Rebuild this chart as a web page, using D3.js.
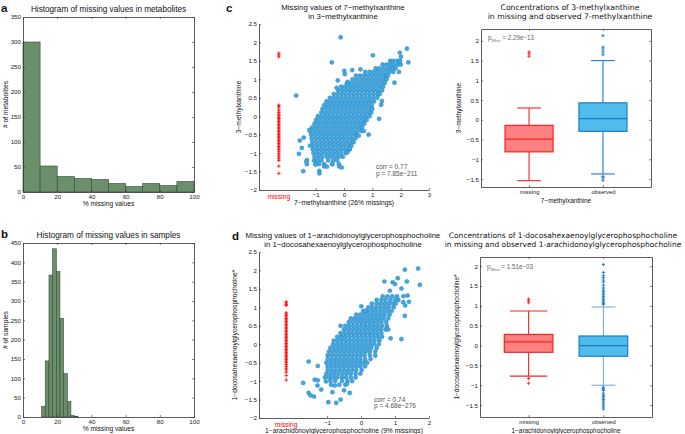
<!DOCTYPE html>
<html>
<head>
<meta charset="utf-8">
<script src="https://cdn.jsdelivr.net/npm/d3@7"></script>
<style>
  body { margin: 0; background: #fff; }
  svg { display: block; font-family: "Liberation Sans", Arial, sans-serif; }
</style>
</head>
<body>
<script>
// ---- data ----

// a: histogram of missing values per metabolite
const metaEdges = [0, 10, 20, 30, 40, 50, 60, 70, 80, 90, 100];
const metaCounts = [300, 52, 31, 27, 25, 17, 11, 17, 13, 21];
const metaYTicks = [0, 50, 100, 150, 200, 250, 300, 350];

// b: histogram of missing values per sample
const sampleEdges = [10.9, 13.0, 15.2, 17.3, 19.5, 21.6, 23.7, 25.9, 28.0, 30.1, 32.2];
const sampleCounts = [27, 145, 367, 435, 376, 255, 112, 40, 4, 1];
const sampleYTicks = [0, 50, 100, 150, 200, 250, 300, 350, 400, 450];

const pctTicks = [0, 20, 40, 60, 80, 100];
const scatterYTicks = [-2, -1.5, -1, -0.5, 0, 0.5, 1, 1.5, 2, 2.5];
const boxYTicks = [-1.5, -1, -0.5, 0, 0.5, 1, 1.5, 2];
const boxCategories = ["missing", "observed"];

// c: 7-methylxanthine vs 3-methylxanthine, rows are [y, x1, x2, ...]
const cObservedRows = [
  [1.5, 1.63, 1.74, 1.88, 1.98],
  [1.4, 1.36, 1.5, 1.62, 1.76, 1.9, 2.0],
  [1.3, 1.12, 1.25, 1.4, 1.55, 1.68, 1.82],
  [1.2, 0.75, 0.9, 1.04, 1.18, 1.32, 1.46, 1.6, 1.74],
  [1.1, 0.42, 0.56, 0.7, 0.84, 0.98, 1.12, 1.26, 1.4, 1.52],
  [1.0, 0.3, 0.44, 0.58, 0.72, 0.86, 1.0, 1.14, 1.28, 1.42, 1.5],
  [0.9, 0.1, 0.24, 0.38, 0.52, 0.66, 0.8, 0.94, 1.08, 1.22, 1.36, 1.44],
  [0.8, -0.1, 0.04, 0.18, 0.32, 0.46, 0.6, 0.74, 0.88, 1.02, 1.16, 1.3, 1.38],
  [0.7, -0.2, -0.06, 0.08, 0.22, 0.36, 0.5, 0.64, 0.78, 0.92, 1.06, 1.2, 1.34],
  [0.6, -0.36, -0.22, -0.08, 0.06, 0.2, 0.34, 0.48, 0.62, 0.76, 0.9, 1.04, 1.18, 1.26],
  [0.5, -0.5, -0.36, -0.22, -0.08, 0.06, 0.2, 0.34, 0.48, 0.62, 0.76, 0.9, 1.04, 1.18],
  [0.4, -0.62, -0.48, -0.34, -0.2, -0.06, 0.08, 0.22, 0.36, 0.5, 0.64, 0.78, 0.92, 1.06],
  [0.3, -0.7, -0.56, -0.42, -0.28, -0.14, 0.0, 0.14, 0.28, 0.42, 0.56, 0.7, 0.84, 0.98],
  [0.2, -0.76, -0.62, -0.48, -0.34, -0.2, -0.06, 0.08, 0.22, 0.36, 0.5, 0.64, 0.78, 0.92, 1.0],
  [0.1, -0.8, -0.66, -0.52, -0.38, -0.24, -0.1, 0.04, 0.18, 0.32, 0.46, 0.6, 0.74, 0.88, 0.96],
  [0.0, -0.92, -0.78, -0.64, -0.5, -0.36, -0.22, -0.08, 0.06, 0.2, 0.34, 0.48, 0.62, 0.76, 0.9],
  [-0.1, -0.98, -0.84, -0.7, -0.56, -0.42, -0.28, -0.14, 0.0, 0.14, 0.28, 0.42, 0.56, 0.7, 0.8],
  [-0.2, -1.04, -0.9, -0.76, -0.62, -0.48, -0.34, -0.2, -0.06, 0.08, 0.22, 0.36, 0.5, 0.64, 0.72],
  [-0.3, -1.12, -0.98, -0.84, -0.7, -0.56, -0.42, -0.28, -0.14, 0.0, 0.14, 0.28, 0.42, 0.56, 0.64],
  [-0.4, -1.2, -1.06, -0.92, -0.78, -0.64, -0.5, -0.36, -0.22, -0.08, 0.06, 0.2, 0.34, 0.48, 0.62],
  [-0.5, -1.16, -1.02, -0.88, -0.74, -0.6, -0.46, -0.32, -0.18, -0.04, 0.1, 0.24, 0.38, 0.46],
  [-0.6, -1.14, -1.0, -0.86, -0.72, -0.58, -0.44, -0.3, -0.16, -0.02, 0.12, 0.26, 0.4],
  [-0.7, -1.12, -0.98, -0.84, -0.7, -0.56, -0.42, -0.28, -0.14, 0.0, 0.14, 0.28, 0.34],
  [-0.8, -1.08, -0.94, -0.8, -0.66, -0.52, -0.38, -0.24, -0.1, 0.04, 0.18, 0.26],
  [-0.9, -1.1, -0.96, -0.82, -0.68, -0.54, -0.4, -0.26, -0.12, 0.02, 0.16, 0.2],
  [-1.0, -1.08, -0.94, -0.8, -0.66, -0.52, -0.38, -0.24, -0.1, 0.06],
  [-1.1, -1.04, -0.9, -0.76, -0.6, -0.46, -0.32, -0.18, -0.04],
  [-1.2, -1.06, -0.94, -0.8, -0.56, -0.38, -0.24],
  [-1.3, -1.0, -0.88, -0.7, -0.42, -0.18]
];
const cObservedLoose = [
  [-0.12, 2.14], [1.02, 1.65], [2.22, 1.83], [1.97, 1.72], [2.27, 1.46], [2.01, 1.61],
  [-0.43, 1.46], [-1.69, 0.56], [0.01, 1.23], [0.03, 1.14], [-0.22, 0.97], [0.13, 0.93],
  [0.58, 1.27], [0.29, 1.25], [-0.26, 0.77], [1.78, 0.91], [1.94, 1.2], [1.24, -0.07],
  [0.87, -0.5], [1.31, 0.31], [1.34, 0.41], [-1.56, -0.66], [-1.59, -1.02], [-1.49, -0.86],
  [-1.42, -0.58], [-1.44, -1.49], [-1.31, -1.19], [-1.31, -1.3], [-1.22, -0.37], [-1.2, -0.8],
  [-0.87, -1.48], [-0.87, -1.55], [-0.7, -1.36], [-0.41, -1.3], [-0.17, -1.36], [-0.08, -1.39],
  [-1.01, -1.31], [0.2, -0.88], [0.12, -0.98], [0.52, -0.53], [0.7, -0.4], [1.55, 1.1],
  [1.7, 1.3], [-0.6, -1.37], [-1.33, -1.23]
];
const cMissing = [1.71, 1.66, 1.61, 0.3, 0.27, 0.22, 0.15, 0.1, 0.05, 0.01, -0.03, -0.06, -0.1,
  -0.14, -0.18, -0.22, -0.26, -0.3, -0.34, -0.38, -0.42, -0.46, -0.5, -0.54, -0.58, -0.62, -0.66,
  -0.7, -0.74, -0.78, -0.82, -0.86, -0.9, -0.95, -1.0, -1.05, -1.1, -1.15, -1.2, -1.35, -1.55];

// box stats: [lower whisker, q1, median, q3, upper whisker]
const cBoxMissing = [-1.54, -0.81, -0.49, -0.14, 0.3];
const cOutMissing = [1.72, 1.67, 1.61];
const cBoxObserved = [-1.37, -0.29, 0.03, 0.43, 1.5];
const cOutObserved = [2.13, 1.84, 1.79, 1.72, 1.65, -1.43, -1.47, -1.53];

// d: 1-arachidonoyl vs 1-docosahexaenoyl glycerophosphocholine
const dObservedRows = [
  [1.3, 0.64, 0.78, 0.92, 1.06],
  [1.2, 0.46, 0.6, 0.72, 0.86, 1.0, 1.1],
  [1.1, 0.32, 0.46, 0.58, 0.7, 0.82, 0.94, 1.02],
  [1.0, 0.22, 0.34, 0.46, 0.58, 0.7, 0.82, 0.96],
  [0.9, 0.06, 0.18, 0.3, 0.42, 0.54, 0.66, 0.78, 0.9],
  [0.8, -0.14, -0.02, 0.1, 0.22, 0.34, 0.46, 0.58, 0.7, 0.84],
  [0.7, -0.3, -0.18, -0.06, 0.06, 0.18, 0.3, 0.42, 0.54, 0.66, 0.8],
  [0.6, -0.36, -0.24, -0.12, 0.0, 0.12, 0.24, 0.36, 0.48, 0.6, 0.74],
  [0.5, -0.46, -0.34, -0.22, -0.1, 0.02, 0.14, 0.26, 0.38, 0.5, 0.62, 0.76],
  [0.4, -0.5, -0.38, -0.26, -0.14, -0.02, 0.1, 0.22, 0.34, 0.46, 0.58, 0.72],
  [0.3, -0.6, -0.48, -0.36, -0.24, -0.12, 0.0, 0.12, 0.24, 0.36, 0.48, 0.6],
  [0.2, -0.7, -0.58, -0.46, -0.34, -0.22, -0.1, 0.02, 0.14, 0.26, 0.38, 0.5, 0.62],
  [0.1, -0.8, -0.68, -0.56, -0.44, -0.32, -0.2, -0.08, 0.04, 0.16, 0.28, 0.4, 0.54],
  [0.0, -0.82, -0.7, -0.58, -0.46, -0.34, -0.22, -0.1, 0.02, 0.14, 0.26, 0.38, 0.52],
  [-0.1, -0.9, -0.78, -0.66, -0.54, -0.42, -0.3, -0.18, -0.06, 0.06, 0.18, 0.3, 0.46],
  [-0.2, -0.94, -0.82, -0.7, -0.58, -0.46, -0.34, -0.22, -0.1, 0.02, 0.14, 0.26, 0.42],
  [-0.3, -0.98, -0.86, -0.74, -0.62, -0.5, -0.38, -0.26, -0.14, -0.02, 0.1, 0.26],
  [-0.4, -0.98, -0.86, -0.74, -0.62, -0.5, -0.38, -0.26, -0.14, -0.02, 0.12, 0.28],
  [-0.5, -1.02, -0.9, -0.78, -0.66, -0.54, -0.42, -0.3, -0.18, -0.06, 0.06, 0.18],
  [-0.6, -0.98, -0.86, -0.74, -0.62, -0.5, -0.38, -0.26, -0.14, -0.02, 0.12],
  [-0.7, -0.98, -0.86, -0.74, -0.62, -0.5, -0.38, -0.26, -0.14, 0.02],
  [-0.8, -1.02, -0.9, -0.78, -0.66, -0.54, -0.42, -0.3, -0.16, -0.02],
  [-0.9, -1.06, -0.94, -0.82, -0.7, -0.56, -0.44, -0.3, -0.16],
  [-1.0, -0.9, -0.76, -0.56, -0.4, -0.26],
  [-1.1, -0.88, -0.64, -0.46]
];
const dObservedLoose = [
  [1.68, 2.05], [1.29, 2.02], [1.73, 1.61], [1.35, 1.7], [1.08, 1.79], [0.69, 1.7], [0.93, 1.68],
  [1.0, 1.63], [1.19, 1.51], [1.37, 1.32], [1.41, 1.15], [1.24, 1.14], [1.29, 0.77], [0.01, 1.03],
  [0.13, 0.91], [-0.6, 0.5], [-0.57, 0.19], [-1.54, -0.47], [-1.27, -0.59], [-1.7, -1.05],
  [-1.54, -1.32], [-1.48, -1.39], [-1.38, -1.42], [-1.36, -0.96], [-1.27, -0.98], [-1.28, -1.12],
  [-1.17, -1.23], [-1.03, -1.01], [-0.84, -1.3], [-0.96, -1.57], [-0.73, -1.59], [-0.6, -1.5],
  [-0.5, -1.25], [-0.33, -1.32], [-0.41, -1.07], [-0.77, -1.12], [0.42, -0.31], [1.19, 0.14],
  [0.87, 0.16], [0.8, 0.4], [1.25, 1.3], [0.85, 1.45], [1.3, 1.05]
];
const dMissing = [1.15, 1.12, 1.08, 1.05, 0.85, 0.82, 0.78, 0.74, 0.7, 0.66, 0.62, 0.58, 0.54, 0.5,
  0.46, 0.42, 0.38, 0.34, 0.3, 0.26, 0.22, 0.18, 0.14, 0.1, 0.06, 0.02, -0.02, -0.06, -0.1, -0.14,
  -0.18, -0.22, -0.26, -0.3, -0.34, -0.38, -0.42, -0.46, -0.5, -0.55, -0.6, -0.65, -0.7, -0.76,
  -0.85, -0.97];

const dBoxMissing = [-0.77, -0.17, 0.09, 0.28, 0.87];
const dOutMissing = [1.17, 1.13, 1.08, -0.83, -0.95];
const dBoxObserved = [-1.0, -0.27, 0.0, 0.24, 0.97];
const dOutObserved = [2.04, 1.84, 1.76, 1.71, 1.65, 1.6, 1.52, 1.45, 1.4, 1.36, 1.32, 1.28, 1.24,
  1.2, 1.16, 1.12, 1.09, 1.06, 1.03, -1.05, -1.08, -1.1, -1.13, -1.2, -1.25, -1.28, -1.32, -1.36,
  -1.4, -1.45, -1.5, -1.55, -1.6];

// ---- drawing ----
const svg = d3.select("body").append("svg")
  .attr("width", 685)
  .attr("height", 434);

const fmt = d3.format("");
const BAR = "#6b8f6b", BAR_EDGE = "#34493a";
const BLUE = "#3fa9e2", BLUE_EDGE = "#1f6fae";
const RED = "#ff0000";
const BOX_TITLE_FONT = "'DejaVu Sans', Verdana, sans-serif";

function styleAxis(sel) {
  sel.select(".domain").attr("stroke", "#333").attr("stroke-width", 0.8);
  sel.selectAll(".tick line").attr("stroke", "#333").attr("stroke-width", 0.6);
  sel.selectAll(".tick text").attr("fill", "#222").style("font-size", "6.2px")
    .style("font-family", "'Liberation Sans', Arial, sans-serif");
}

// matlab style axes: ticks pointing inward, optional full box
function drawAxes(g, x, y, o) {
  const [x0, x1] = x.range(), [y0, y1] = y.range();
  g.append("g").attr("transform", `translate(0,${y0})`)
    .call(d3.axisBottom(x).tickValues(o.xTicks).tickFormat(o.xFormat || fmt)
      .tickSizeInner(-2).tickSizeOuter(0).tickPadding(3))
    .call(styleAxis);
  g.append("g").attr("transform", `translate(${x0},0)`)
    .call(d3.axisLeft(y).tickValues(o.yTicks).tickFormat(fmt)
      .tickSizeInner(-2).tickSizeOuter(0).tickPadding(2))
    .call(styleAxis);
  if (o.box) {
    g.append("g").attr("transform", `translate(0,${y1})`)
      .call(d3.axisTop(x).tickValues(o.xTicks).tickFormat(() => "")
        .tickSizeInner(-2).tickSizeOuter(0))
      .call(styleAxis);
    g.append("g").attr("transform", `translate(${x1},0)`)
      .call(d3.axisRight(y).tickValues(o.yTicks).tickFormat(() => "")
        .tickSizeInner(-2).tickSizeOuter(0))
      .call(styleAxis);
  }
}

function label(g, txt, x, y, o = {}) {
  const t = g.append("text").attr("x", x).attr("y", y)
    .attr("text-anchor", o.anchor || "middle")
    .attr("fill", o.color || "#111")
    .style("font-size", (o.size || 6.7) + "px")
    .text(txt);
  if (o.rotate) t.attr("transform", `rotate(-90,${x},${y})`);
  if (o.family) t.style("font-family", o.family);
  if (o.bold) t.style("font-weight", "bold");
  return t;
}

function plus(s) { return `M${-s},0H${s}M0,${-s}V${s}`; }

function histogram(o) {
  const g = svg.append("g");
  const x = d3.scaleLinear().domain([0, 100]).range([23, 194]);
  const y = d3.scaleLinear().domain(o.yDomain).range([o.bottom, o.top]);
  g.selectAll("rect.bar")
    .data(o.counts)
    .join("rect")
    .attr("class", "bar")
    .attr("x", (d, i) => x(o.edges[i]))
    .attr("width", (d, i) => x(o.edges[i + 1]) - x(o.edges[i]))
    .attr("y", d => y(d))
    .attr("height", d => y(0) - y(d))
    .attr("fill", BAR)
    .attr("stroke", BAR_EDGE)
    .attr("stroke-width", 0.6);
  drawAxes(g, x, y, { xTicks: pctTicks, yTicks: o.yTicks, box: true });
  label(g, o.title, 108.5, o.top - 5, { size: 8.2 });
  label(g, "% missing values", 108.5, o.bottom + 14);
  label(g, o.ylabel, 8, (o.top + o.bottom) / 2, { rotate: true });
  label(g, o.letter, 1, o.top - 5, { anchor: "start", size: 11.5, bold: true });
}

histogram({
  edges: metaEdges, counts: metaCounts, yDomain: [0, 350], yTicks: metaYTicks,
  top: 17, bottom: 192, title: "Histogram of missing values in metabolites",
  ylabel: "# of metabolites", letter: "a"
});
histogram({
  edges: sampleEdges, counts: sampleCounts, yDomain: [0, 450], yTicks: sampleYTicks,
  top: 243, bottom: 417, title: "Histogram of missing values in samples",
  ylabel: "# of samples", letter: "b"
});

function scatter(o) {
  const g = svg.append("g");
  const x = d3.scaleLinear().domain(o.xDomain).range([259, 429]);
  const y = d3.scaleLinear().domain([-2, 2.5]).range([o.bottom, o.top]);
  drawAxes(g, x, y, { xTicks: o.xTicks, yTicks: scatterYTicks, box: false });
  g.append("text")
    .attr("x", x(o.missingAt)).attr("y", o.bottom + 8.5)
    .attr("text-anchor", "middle").attr("fill", RED)
    .style("font-size", "6.7px").text("missing");

  const pts = o.rows.flatMap(([yy, ...xs]) => xs.map(xx => [xx, yy])).concat(o.loose);
  g.selectAll("circle.obs")
    .data(pts)
    .join("circle")
    .attr("class", "obs")
    .attr("cx", d => x(d[0]))
    .attr("cy", d => y(d[1]))
    .attr("r", 2.1)
    .attr("fill", BLUE)
    .attr("stroke", BLUE_EDGE)
    .attr("stroke-opacity", 0.7)
    .attr("stroke-width", 0.5);
  g.selectAll("path.miss")
    .data(o.missing)
    .join("path")
    .attr("class", "miss")
    .attr("transform", d => `translate(${x(o.missingAt)},${y(d)})`)
    .attr("d", plus(1.8))
    .attr("stroke", RED)
    .attr("stroke-width", 0.8);

  label(g, o.title[0], 343, o.top - 14, { size: 7.8 });
  label(g, o.title[1], 343, o.top - 5.5, { size: 7.8 });
  label(g, o.xlabel, 344, o.bottom + 14.5);
  label(g, o.ylabel, o.ylabelX, (o.top + o.bottom) / 2, { rotate: true });
  label(g, o.corr[0], o.noteX, o.noteY, { anchor: "start", size: 6.5, color: "#555" });
  label(g, o.corr[1], o.noteX, o.noteY + 6.6, { anchor: "start", size: 6.5, color: "#555" });
  label(g, o.letter, o.letterX, o.top - 12, { anchor: "start", size: 11.5, bold: true });
}

scatter({
  xDomain: [-3, 3], xTicks: [-1, 0, 1, 2, 3], missingAt: -2.3, top: 24, bottom: 190,
  rows: cObservedRows, loose: cObservedLoose, missing: cMissing,
  title: ["Missing values of 7\u2212methylxanthine", "in 3\u2212methylxanthine"],
  xlabel: "7\u2212methylxanthine (26% missings)", ylabel: "3\u2212methylxanthine", ylabelX: 241,
  corr: ["corr = 0.77", "p = 7.85e\u2212211"], noteX: 376, noteY: 169,
  letter: "c", letterX: 226
});
scatter({
  xDomain: [-3, 2], xTicks: [-1, 0, 1, 2], missingAt: -2.2, top: 252, bottom: 418,
  rows: dObservedRows, loose: dObservedLoose, missing: dMissing,
  title: ["Missing values of 1\u2212arachidonoylglycerophosphocholine",
          "in 1\u2212docosahexaenoylglycerophosphocholine"],
  xlabel: "1\u2212arachidonoylglycerophosphocholine (9% missings)",
  ylabel: "1\u2212docosahexaenoylglycerophosphocholine*", ylabelX: 237,
  corr: ["corr = 0.74", "p = 4.68e\u2212276"], noteX: 374, noteY: 401.5,
  letter: "d", letterX: 232
});

function drawBox(g, x, y, pos, stats, outs, c) {
  const [lo, q1, med, q3, hi] = stats;
  const cx = x(pos);
  const half = (x(pos + 0.325) - x(pos - 0.325)) / 2;
  const cap = (x(pos + c.cap / 2) - x(pos - c.cap / 2)) / 2;
  const wg = g.append("g").attr("stroke", c.stroke).attr("stroke-width", 1.1)
    .attr("stroke-opacity", c.whiskerOpacity || 1);
  wg.append("line").attr("x1", cx).attr("x2", cx).attr("y1", y(hi)).attr("y2", y(q3));
  wg.append("line").attr("x1", cx).attr("x2", cx).attr("y1", y(q1)).attr("y2", y(lo));
  [hi, lo].forEach(v => wg.append("line")
    .attr("x1", cx - cap).attr("x2", cx + cap).attr("y1", y(v)).attr("y2", y(v)));
  g.append("rect")
    .attr("x", cx - half).attr("width", 2 * half)
    .attr("y", y(q3)).attr("height", y(q1) - y(q3))
    .attr("fill", c.fill).attr("stroke", c.stroke).attr("stroke-width", 1.2);
  g.append("line").attr("x1", cx - half).attr("x2", cx + half)
    .attr("y1", y(med)).attr("y2", y(med))
    .attr("stroke", c.stroke).attr("stroke-width", 1.2);
  g.selectAll(null)
    .data(outs)
    .join("path")
    .attr("transform", d => `translate(${cx},${y(d)})`)
    .attr("d", plus(1.7))
    .attr("stroke", c.stroke)
    .attr("stroke-width", 0.9);
}

const missStyle = { fill: "#ff8282", stroke: "#ff2020" };
const obsStyle = { fill: "#4fbcec", stroke: "#1f7cc2" };

function boxPanel(o) {
  const g = svg.append("g");
  const x = d3.scaleLinear().domain([0.35, 2.65]).range(o.xRange);
  const y = d3.scaleLinear().domain(o.yDomain).range([o.bottom, o.top]);
  drawBox(g, x, y, 1, o.missBox, o.missOut, { ...missStyle, cap: o.missCap });
  drawBox(g, x, y, 2, o.obsBox, o.obsOut, { ...obsStyle, cap: o.obsCap, whiskerOpacity: o.obsWhiskerOpacity });
  drawAxes(g, x, y, {
    xTicks: [1, 2], yTicks: boxYTicks, box: true,
    xFormat: d => boxCategories[d - 1]
  });
  g.selectAll(".tick text").filter(function () { return boxCategories.includes(this.textContent); })
    .style("font-size", "5.8px");
  const mid = (o.xRange[0] + o.xRange[1]) / 2;
  label(g, o.title[0], o.titleX, o.titleY, { size: o.titleSize, family: BOX_TITLE_FONT });
  label(g, o.title[1], o.titleX, o.titleY + 9, { size: o.titleSize, family: BOX_TITLE_FONT });
  label(g, o.xlabel, mid, o.bottom + 16, { size: 6.4 });
  label(g, o.ylabel, o.ylabelX, (o.top + o.bottom) / 2, { rotate: true, size: 6.4 });
  const p = g.append("text").attr("x", o.xRange[0] + 7).attr("y", o.pY)
    .attr("fill", "#666").style("font-size", "6.3px");
  p.append("tspan").text("p");
  p.append("tspan").attr("dy", 1.8).style("font-size", "4.4px").text("Wrst");
  p.append("tspan").attr("dy", -1.8).text(" = " + o.pValue);
}

boxPanel({
  xRange: [481, 651], yDomain: [-1.7, 2.3], top: 29, bottom: 187,
  missBox: cBoxMissing, missOut: cOutMissing, obsBox: cBoxObserved, obsOut: cOutObserved,
  missCap: 0.32, obsCap: 0.32, obsWhiskerOpacity: 1,
  title: ["Concentrations of 3-methylxanthine", "in missing and observed 7-methylxanthine"],
  titleX: 570, titleY: 10, titleSize: 7.7,
  xlabel: "7\u2212methylxanthine", ylabel: "3\u2212methylxanthine", ylabelX: 461,
  pY: 40, pValue: "2.29e\u221213"
});
boxPanel({
  xRange: [480, 652], yDomain: [-1.8, 2.23], top: 257, bottom: 417,
  missBox: dBoxMissing, missOut: dOutMissing, obsBox: dBoxObserved, obsOut: dOutObserved,
  missCap: 0.5, obsCap: 0.32, obsWhiskerOpacity: 0.6,
  title: ["Concentrations of 1-docosahexaenoylglycerophosphocholine",
          "in missing and observed 1-arachidonoylglycerophosphocholine"],
  titleX: 563, titleY: 238, titleSize: 7.5,
  xlabel: "1\u2212arachidonoylglycerophosphocholine",
  ylabel: "1\u2212docosahexaenoylglycerophosphocholine*", ylabelX: 459,
  pY: 269, pValue: "1.51e\u221203"
});
</script>
</body>
</html>
